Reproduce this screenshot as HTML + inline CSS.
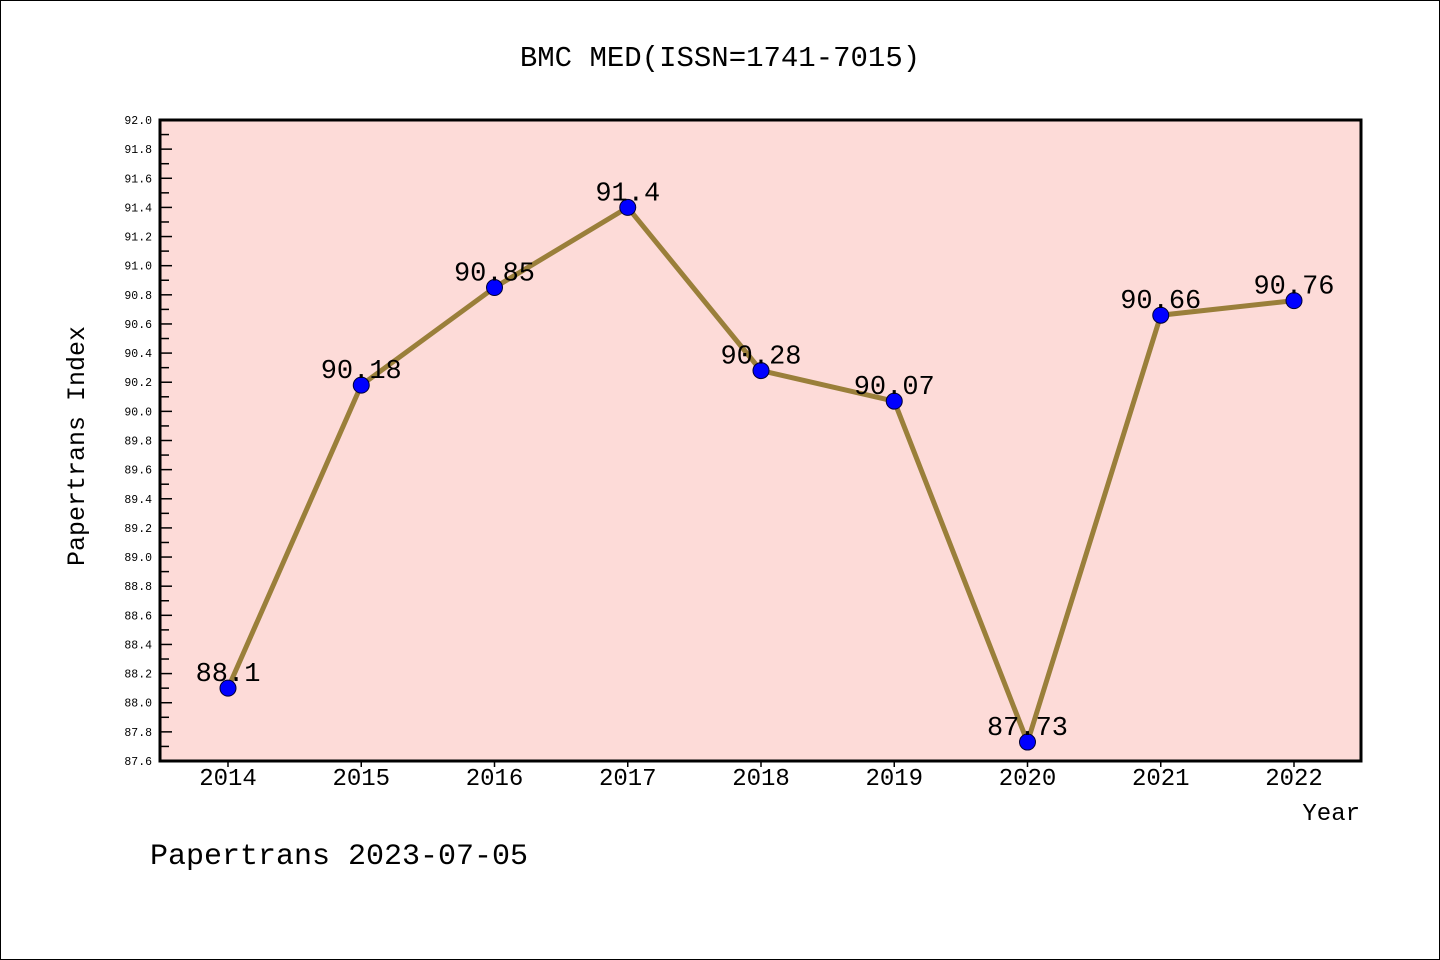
<!DOCTYPE html>
<html><head><meta charset="utf-8"><style>
body{margin:0;background:#fff}
svg{display:block}
text{font-family:"Liberation Mono","WenQuanYi Zen Hei",monospace}
</style></head><body>
<svg width="1440" height="960" xmlns="http://www.w3.org/2000/svg">
<rect x="0.5" y="0.5" width="1439" height="959" fill="#fff" stroke="#000"/>
<text x="720" y="66" font-size="29" text-anchor="middle">BMC MED(ISSN=1741-7015)</text>
<rect x="160" y="120" width="1201" height="641" fill="#fddbd8"/>
<g id="ticks"></g>
<g id="series"></g>
<rect x="160" y="120" width="1201" height="641" fill="none" stroke="#000" stroke-width="3"/>
<text x="1360" y="820" font-size="24" text-anchor="end">Year</text>
<text transform="translate(84,446) rotate(-90)" font-size="25" text-anchor="middle">Papertrans Index</text>
<text x="150" y="864" font-size="30">Papertrans 2023-07-05</text>
</svg>
<script>
const years=["2014","2015","2016","2017","2018","2019","2020","2021","2022"];
const values=[88.1,90.18,90.85,91.4,90.28,90.07,87.73,90.66,90.76];
const valueLabels=["88.1","90.18","90.85","91.4","90.28","90.07","87.73","90.66","90.76"];
const yMin=87.6,yMax=92.0;
const NS="http://www.w3.org/2000/svg";
function xs(i){return 228+i*(1294-228)/(years.length-1);}
function ys(v){return 761-(v-yMin)/(yMax-yMin)*641;}
function mk(t,a,p){const e=document.createElementNS(NS,t);for(const k in a)e.setAttribute(k,a[k]);p.appendChild(e);return e;}
const tg=document.getElementById('ticks');
for(let k=0;k<=44;k++){
  const v=yMin+k*0.1,y=ys(v),major=k%2===0;
  const l=mk('line',{x1:160,x2:160+(major?12:9),y1:y,y2:y,stroke:'#000','stroke-width':1.5},tg);
  
  
  if(major){const t=mk('text',{x:152,y:y+4,'font-size':11.5,'text-anchor':'end'},tg);t.textContent=v.toFixed(1);
  
  }
}
years.forEach((yr,i)=>{
  const x=xs(i);
  const l=mk('line',{x1:x,x2:x,y1:761,y2:767,stroke:'#000','stroke-width':1.5},tg);
  
  
  const t=mk('text',{x:x,y:785,'font-size':24,'text-anchor':'middle'},tg);t.textContent=yr;
  
  
});
const sg=document.getElementById('series');
const pl=mk('polyline',{points:values.map((v,i)=>xs(i)+','+ys(v)).join(' '),fill:'none',stroke:'#9a7f3a','stroke-width':5},sg);


values.forEach((v,i)=>{
  const c=mk('circle',{cx:xs(i),cy:ys(v),r:8,fill:'#0000ff',stroke:'#000033','stroke-width':1},sg);
  
  
});
values.forEach((v,i)=>{
  const t=mk('text',{x:xs(i),y:ys(v)-7,'font-size':27,'text-anchor':'middle'},sg);t.textContent=valueLabels[i];
  
  
});
</script>
</body></html>
